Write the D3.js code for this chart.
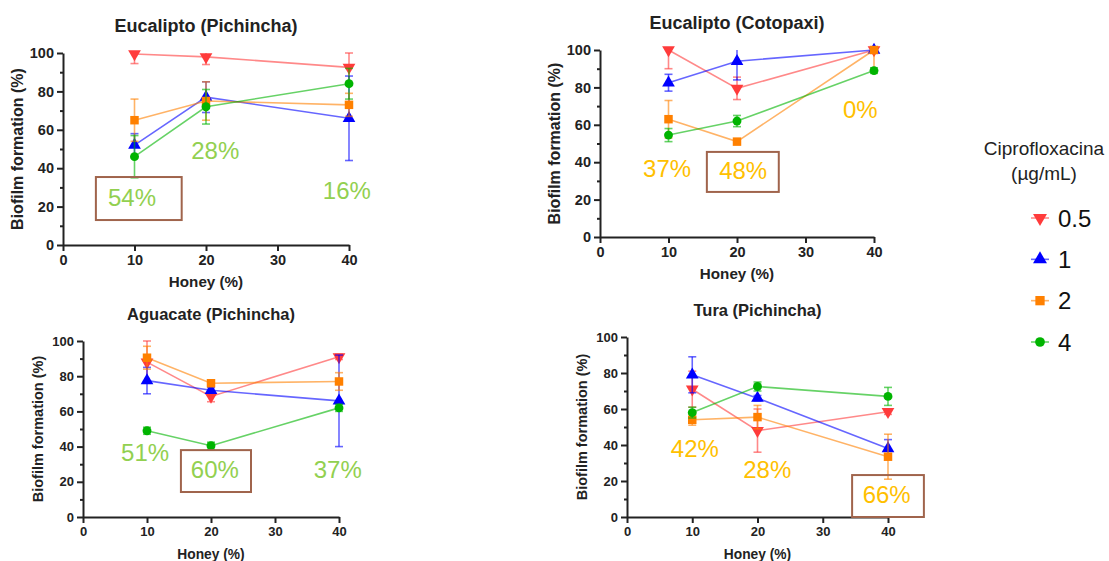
<!DOCTYPE html>
<html lang="en">
<head>
<meta charset="UTF-8">
<title>Biofilm formation</title>
<script src="https://cdn.jsdelivr.net/npm/d3@7"></script>
<style>
  body { margin: 0; background: #fff; }
  text { font-family: "Liberation Sans", Arial, sans-serif; }
  .axis path, .axis line { stroke: #222; stroke-width: 2px; }
  .axis text { fill: #222; font-weight: bold; }
</style>
</head>
<body>
<script>
// data
var honey = [10, 20, 40];
var doses = ["0.5", "1", "2", "4"];
var titles = ["Eucalipto (Pichincha)", "Eucalipto (Cotopaxi)", "Aguacate (Pichincha)", "Tura (Pichincha)"];
var yTicks = [0, 20, 40, 60, 80, 100];
var yMinor = [10, 30, 50, 70, 90];
var xTicks = [0, 10, 20, 30, 40];

// rows = doses 0.5, 1, 2, 4 ; columns = honey 10, 20, 40
var eucPichMean = [[99.5, 98, 92.5], [52, 77, 66], [65, 75, 73], [46, 72, 84]];
var eucPichSd   = [[5, 4, 8], [6, 8, 22], [11, 10, 6], [11, 9, 8]];
var eucCotoMean = [[100, 79.5, 100], [82.5, 94, 100], [63, 51, 100], [54.5, 62, 89]];
var eucCotoSd   = [[10, 6, 0], [4.5, 10, 0], [10, 1, 11], [3.5, 3, 1.5]];
var aguaPichMean = [[88, 68.5, 91], [77.5, 72, 66], [90.5, 76, 77], [49, 40.5, 62]];
var aguaPichSd   = [[12, 3, 1.5], [7.5, 1.5, 26], [6.5, 1.5, 5], [2, 2, 2]];
var turaPichMean = [[71, 48, 58.5], [79, 66, 38], [54, 55.5, 33.5], [58, 72.5, 67]];
var turaPichSd   = [[10, 12, 1.5], [10, 1.5, 5], [3, 6.5, 12.5], [3, 2.5, 5]];

// reduction labels per panel
var pctLabels = [["54%", "28%", "16%"], ["37%", "48%", "0%"], ["51%", "60%", "37%"], ["42%", "28%", "66%"]];

var means = [eucPichMean, eucCotoMean, aguaPichMean, turaPichMean];
var sds = [eucPichSd, eucCotoSd, aguaPichSd, turaPichSd];

// styles and layout
var colors = ["#ff3b3b", "#0000ff", "#ff8000", "#00b400"];
var symbols = [d3.symbolTriangle, d3.symbolTriangle, d3.symbolSquare, d3.symbolCircle];
var symRot = [180, 0, 0, 0];
var symSize = [70, 70, 72, 62];
var pctColor = ["#92d050", "#ffc000", "#92d050", "#ffc000"];

var panels = [
  { x0: 63, x1: 349, y100: 53, y0: 245, titleFs: 18, tickFs: 14.5, labFs: 16,
    pos: [[9.65, 20.3], [21.3, 44.8], [39.7, 24]], box: [4.6, 16.6, 35.4, 13] },
  { x0: 600, x1: 874, y100: 50, y0: 237, titleFs: 18, tickFs: 14.5, labFs: 16,
    pos: [[9.8, 32], [20.9, 31], [38, 63.6]], box: [15.6, 26.1, 45.5, 24.1] },
  { x0: 83, x1: 339, y100: 341, y0: 517, titleFs: 16.5, tickFs: 13, labFs: 14.5,
    pos: [[9.7, 31.8], [20.6, 22.2], [39.8, 22.2]], box: [15.3, 26.25, 38, 14.2] },
  { x0: 627, x1: 888, y100: 337, y0: 517, titleFs: 16.5, tickFs: 13, labFs: 14.5,
    pos: [[10.4, 33.3], [21.5, 21.7], [39.8, 7.8]], box: [34.5, 45.5, 23.3, 0] }
];

var svg = d3.select("body").append("svg")
  .attr("width", 1109).attr("height", 561);

panels.forEach(function(p, pi) {
  var x = d3.scaleLinear().domain([0, 40]).range([p.x0, p.x1]);
  var y = d3.scaleLinear().domain([0, 100]).range([p.y0, p.y100]);
  var g = svg.append("g");

  // title
  g.append("text")
    .attr("x", (p.x0 + p.x1) / 2).attr("y", p.y100 - 21)
    .attr("text-anchor", "middle")
    .style("font-size", p.titleFs + "px").style("font-weight", "bold").style("fill", "#222")
    .text(titles[pi]);

  // axes
  g.append("g").attr("class", "axis")
    .attr("transform", "translate(" + p.x0 + ",0)")
    .call(d3.axisLeft(y).tickValues(yTicks).tickSize(6).tickSizeOuter(0).tickPadding(3))
    .selectAll("text").style("font-size", p.tickFs + "px");
  g.append("g").attr("class", "axis")
    .attr("transform", "translate(" + p.x0 + ",0)")
    .call(d3.axisLeft(y).tickValues(yMinor).tickSize(3).tickSizeOuter(0).tickFormat(""))
    .select(".domain").remove();
  g.append("g").attr("class", "axis")
    .attr("transform", "translate(0," + p.y0 + ")")
    .call(d3.axisBottom(x).tickValues(xTicks).tickSize(6).tickSizeOuter(0).tickPadding(4))
    .selectAll("text").style("font-size", p.tickFs + "px");

  // axis labels
  g.append("text")
    .attr("transform", "translate(" + (p.x0 - 40) + "," + ((p.y0 + p.y100) / 2) + ") rotate(-90)")
    .attr("text-anchor", "middle")
    .style("font-size", p.labFs + "px").style("font-weight", "bold").style("fill", "#222")
    .text("Biofilm formation (%)");
  g.append("text")
    .attr("x", (p.x0 + p.x1) / 2).attr("y", p.y0 + 42)
    .attr("text-anchor", "middle")
    .style("font-size", p.labFs * 0.95 + "px").style("font-weight", "bold").style("fill", "#222")
    .text("Honey (%)");

  // series
  var line = d3.line().x(function(d) { return x(d[0]); }).y(function(d) { return y(d[1]); });
  doses.forEach(function(dose, si) {
    var pts = honey.map(function(h, k) { return [h, means[pi][si][k], sds[pi][si][k]]; });
    var c = colors[si];
    var eb = g.append("g").attr("stroke", c).attr("stroke-width", 1.6).attr("stroke-opacity", 0.6);
    pts.forEach(function(d) {
      if (d[2] <= 0) return;
      var hi = Math.min(100, d[1] + d[2]), lo = Math.max(0, d[1] - d[2]);
      var cx = x(d[0]);
      eb.append("line").attr("x1", cx).attr("x2", cx).attr("y1", y(hi)).attr("y2", y(lo));
      if (d[1] + d[2] <= 100.5)
        eb.append("line").attr("x1", cx - 4).attr("x2", cx + 4).attr("y1", y(hi)).attr("y2", y(hi));
      eb.append("line").attr("x1", cx - 4).attr("x2", cx + 4).attr("y1", y(lo)).attr("y2", y(lo));
    });
    g.append("path").datum(pts)
      .attr("d", line).attr("fill", "none")
      .attr("stroke", c).attr("stroke-width", 1.6).attr("stroke-opacity", 0.6);
    g.selectAll(null).data(pts).enter().append("path")
      .attr("d", d3.symbol().type(symbols[si]).size(symSize[si]))
      .attr("transform", function(d) {
        return "translate(" + x(d[0]) + "," + y(d[1]) + ") rotate(" + symRot[si] + ")";
      })
      .attr("fill", c);
  });

  // reduction labels
  pctLabels[pi].forEach(function(t, k) {
    g.append("text")
      .attr("x", x(p.pos[k][0])).attr("y", y(p.pos[k][1]))
      .attr("text-anchor", "middle")
      .style("font-size", "24px").style("fill", pctColor[pi])
      .text(t);
  });
  var b = p.box;
  g.append("rect")
    .attr("x", x(b[0])).attr("y", y(b[2]))
    .attr("width", x(b[1]) - x(b[0])).attr("height", y(b[3]) - y(b[2]))
    .attr("fill", "none").attr("stroke", "#a0644c").attr("stroke-width", 2);
});

// legend
var leg = svg.append("g");
leg.append("text").attr("x", 1044).attr("y", 155).attr("text-anchor", "middle")
  .style("font-size", "19px").style("fill", "#222").text("Ciprofloxacina");
leg.append("text").attr("x", 1044).attr("y", 180).attr("text-anchor", "middle")
  .style("font-size", "19px").style("fill", "#222").text("(µg/mL)");
var legY = d3.scalePoint().domain(doses).range([218, 342]);
doses.forEach(function(dose, si) {
  var cy = legY(dose);
  leg.append("line").attr("x1", 1031).attr("x2", 1049).attr("y1", cy).attr("y2", cy)
    .attr("stroke", colors[si]).attr("stroke-width", 1.6).attr("stroke-opacity", 0.6);
  leg.append("path")
    .attr("d", d3.symbol().type(symbols[si]).size(symSize[si] * 1.2))
    .attr("transform", "translate(1040," + cy + ") rotate(" + symRot[si] + ")")
    .attr("fill", colors[si]);
  leg.append("text").attr("x", 1058).attr("y", cy + 8.5)
    .style("font-size", "24px").style("fill", "#111").text(dose);
});
</script>
</body>
</html>
